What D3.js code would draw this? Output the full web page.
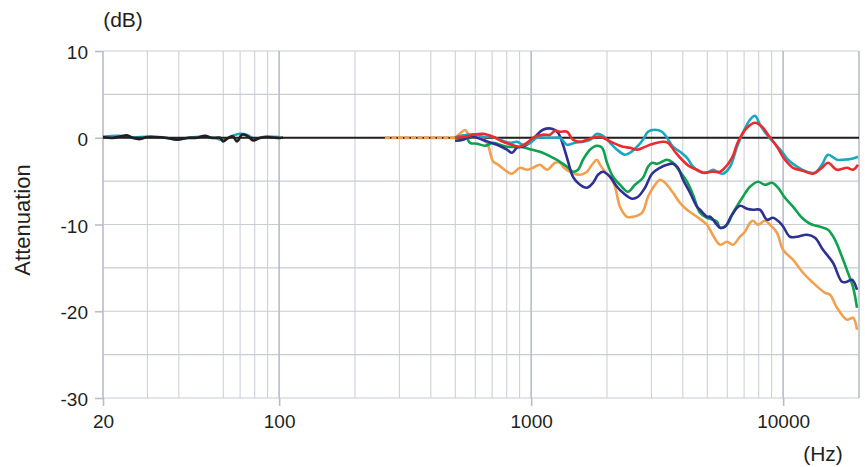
<!DOCTYPE html>
<html>
<head>
<meta charset="utf-8">
<script src="https://cdn.jsdelivr.net/npm/d3@7"></script>
<style>
	body { margin: 0; background: #fff; }
	text { font-family: "Liberation Sans", Arial, sans-serif; fill: #231f20; }
</style>
</head>
<body>
<div class="chart"></div>
<script>
var xTicks = [20, 100, 1000, 10000];
var yTicks = [10, 0, -10, -20, -30];
var gridFreqs = [30, 40, 60, 70, 80, 90, 200, 300, 400, 500, 600, 700, 800, 900,
	2000, 3000, 4000, 5000, 6000, 7000, 8000, 9000];
var gridDb = [5, -5, -15, -25];

var lowBlack = [[20,0.08],[21.9,-0.03],[23.4,0.15],[24.9,0.27],[26.3,-0.03],[28.1,-0.15],[29.9,0.08],[32.8,0.08],
	[35.9,-0.03],[39.3,-0.23],[43.1,-0.03],[47.2,0],[50.8,0.23],[54.1,-0.03],[58.3,0],[59.9,-0.42],[62.7,-0.03],
	[65.6,0.15],[68,-0.42],[71.2,0.35],[74.6,0.23],[78.8,-0.31],[84,-0.03],[89.5,0.08],[98.1,-0.03],[103.6,0.03]];
var lowCyan = [[20,0.12],[23,0.22],[26,0.05],[30,0.12],[35,0],[40,-0.18],[45,0.05],[50,0.15],[55,0],[60,-0.25],
	[65,0.2],[70,0.45],[75,0.3],[80,-0.15],[85,0.05],[90,0.15],[100,0.08]];
var orangeFlat = [[263,0],[499,0]];

var orange = [[499,0],[522,0.5],[547,0.9],[572,0.15],[627,0],[668,-0.6],[706,-2.7],[739,-3.1],[802,-3.9],[840,-4.15],
	[903,-3.46],[962,-3.69],[1017,-3.46],[1084,-3.11],[1156,-3.69],[1244,-2.88],[1302,-2.88],[1338,-3.34],[1426,-3.92],
	[1563,-4.27],[1666,-3.92],[1744,-3.11],[1825,-2.54],[1876,-3.11],[1964,-3.92],[2056,-4.5],[2152,-5.65],[2252,-7.95],
	[2401,-9.11],[2536,-9.11],[2754,-8.65],[2909,-6.8],[3045,-5.76],[3245,-4.84],[3398,-5.19],[3655,-6.34],[3896,-7.5],
	[4154,-8.3],[4551,-9.11],[4986,-10.03],[5124,-10.61],[5616,-12.33],[5987,-11.99],[6325,-12.33],[6740,-11.41],
	[7054,-10.84],[7386,-9.8],[7592,-9.57],[7946,-10.03],[8472,-9.57],[8868,-10.03],[9453,-10.95],[9986,-12.91],
	[10940,-14.06],[11990,-15.56],[13130,-16.71],[14660,-17.87],[15350,-18.1],[16360,-19.6],[17920,-20.98],
	[18930,-20.75],[19640,-22.13]];
var navy = [[499,-0.35],[537,-0.23],[572,0.15],[610,0],[668,-0.42],[732,-0.81],[802,-1.38],[840,-1.73],[879,-1.15],
	[928,-1],[990,-0.58],[1055,0.35],[1114,0.92],[1210,1.04],[1278,0.58],[1338,-0.81],[1400,-2.7],[1466,-4.5],
	[1563,-5.42],[1666,-5.76],[1760,-5.19],[1842,-4.27],[1928,-3.92],[2056,-4.5],[2191,-5.65],[2315,-6.34],[2513,-7.03],
	[2655,-6.8],[2830,-5.76],[3018,-4.15],[3245,-3.46],[3460,-3.11],[3655,-3],[3825,-3.46],[4005,-4.84],[4270,-6.34],
	[4551,-7.95],[4677,-8.3],[4986,-9.11],[5124,-9.11],[5464,-10.03],[5616,-10.37],[5879,-10.26],[6267,-8.88],
	[6740,-7.84],[7186,-8.18],[7592,-8.3],[8093,-8.3],[8628,-9.45],[9114,-9.22],[9895,-10.03],[10640,-11.41],
	[11350,-11.41],[12430,-11.18],[13380,-11.53],[14390,-12.91],[15770,-14.41],[17120,-16.6],[17920,-16.6],
	[18760,-16.37],[19640,-17.52]];
var green = [[499,0],[547,0.23],[572,-0.58],[610,-0.69],[656,-0.92],[706,-0.58],[752,-0.81],[802,-1.04],[879,-1.04],
	[945,-1.15],[1008,-1.38],[1084,-1.61],[1156,-1.96],[1221,-2.31],[1302,-2.77],[1388,-3.34],[1466,-3.92],[1535,-3.69],
	[1606,-2.54],[1712,-1.38],[1825,-0.92],[1911,-1.15],[2000,-2.88],[2113,-4.5],[2252,-5.42],[2423,-6.22],[2583,-5.42],
	[2779,-4.61],[2909,-3.34],[3018,-2.88],[3158,-3],[3306,-2.77],[3460,-2.54],[3655,-2.88],[3896,-3.92],[4154,-5.07],
	[4389,-6.57],[4677,-8.65],[4986,-9.22],[5464,-9.68],[5616,-10.37],[5987,-10.03],[6325,-8.65],[6927,-6.8],
	[7386,-5.65],[7946,-5.07],[8472,-5.42],[9032,-5.19],[9541,-5.76],[10170,-6.92],[10940,-7.95],[11880,-9.22],
	[12780,-9.91],[14000,-10.26],[15070,-10.61],[16060,-11.76],[17120,-13.72],[18080,-15.56],[18930,-17.18],
	[19640,-19.6]];
var cyan = [[499,0],[557,0.35],[610,0.35],[644,0.12],[699,0.12],[752,-0.23],[825,-0.58],[879,-0.46],[928,-0.81],
	[990,-0.58],[1055,0],[1156,0],[1244,0],[1302,0],[1388,-0.81],[1493,-0.58],[1606,-0.46],[1712,-0.23],[1825,0.46],
	[1928,0.23],[2056,-0.58],[2191,-1.38],[2357,-1.96],[2467,-1.73],[2630,-1.04],[2779,-0.23],[2909,0.69],[3101,0.92],
	[3306,0.69],[3460,0],[3655,-1.04],[3896,-1.61],[4154,-2.31],[4389,-3.34],[4677,-3.92],[4986,-4.03],[5267,-3.69],
	[5464,-3.92],[5772,-4.15],[6154,-3.34],[6560,-1.04],[6927,0.58],[7386,2.07],[7731,2.54],[8093,1.5],[8628,0.35],
	[9114,-0.46],[9895,-1.61],[10450,-2.54],[11350,-3.34],[12430,-3.92],[13380,-4.03],[14260,-3.11],[15070,-1.96],
	[16360,-2.54],[17280,-2.54],[18760,-2.42],[19820,-2.19]];
var red = [[499,0],[547,0.12],[588,0.35],[644,0.46],[706,0.12],[773,-0.46],[840,-0.81],[903,-1.04],[962,-0.58],
	[1036,0.12],[1114,0.35],[1188,0.35],[1244,0.81],[1302,0.69],[1388,0.69],[1466,-0.23],[1563,-0.46],[1666,-0.23],
	[1760,0],[1876,0.12],[2000,-0.23],[2113,-0.58],[2315,-1.04],[2467,-1.15],[2630,-1.38],[2779,-1.15],[2963,-0.81],
	[3158,-0.58],[3336,-0.46],[3492,-0.58],[3722,-1.61],[3968,-2.54],[4270,-3.34],[4551,-3.69],[4808,-4.03],
	[5220,-3.92],[5616,-3.92],[5772,-3.69],[6267,-2.31],[6620,-0.46],[7186,1.15],[7731,1.73],[8243,1.27],[8709,0.35],
	[9453,-1.04],[10170,-2.54],[10940,-3.46],[11990,-3.8],[13130,-4.15],[14260,-3.46],[15070,-2.88],[16360,-3.69],
	[17920,-3.46],[18930,-3.69],[19820,-3.11]];

function makeChart(){
	var width = 865,
			height = 467;

	var svg = d3.select(".chart").append("svg")
			.attr("width", width)
			.attr("height", height);

	var x = d3.scaleLog().domain([20, 20000]).range([103, 859]);
	var y = d3.scaleLinear().domain([-30, 10]).range([398, 51]);

	var grid = svg.append("g").attr("class", "grid");

	grid.selectAll(".vminor").data(gridFreqs).enter().append("line")
			.attr("x1", function(d){ return x(d) }).attr("x2", function(d){ return x(d) })
			.attr("y1", y(10)).attr("y2", y(-30))
			.style("stroke", "#c9ccd5").style("stroke-width", 1);

	grid.selectAll(".hminor").data(gridDb.concat(yTicks)).enter().append("line")
			.attr("x1", x(20)).attr("x2", x(20000))
			.attr("y1", function(d){ return y(d) }).attr("y2", function(d){ return y(d) })
			.style("stroke", "#c9ccd5").style("stroke-width", 1.2);

	grid.selectAll(".vmajor").data(xTicks.concat([20000])).enter().append("line")
			.attr("x1", function(d){ return x(d) }).attr("x2", function(d){ return x(d) })
			.attr("y1", y(10)).attr("y2", y(-30))
			.style("stroke", "#b9bdc8").style("stroke-width", 1.6);

	// axes: short ticks and labels only, the frame comes from the grid
	var yAxis = d3.axisLeft(y).tickValues(yTicks).tickSize(8).tickPadding(7)
			.tickFormat(function(d){ return String(d) });
	var xAxis = d3.axisBottom(x).tickValues(xTicks).tickSize(8).tickPadding(4)
			.tickFormat(function(d){ return String(d) });

	var gy = svg.append("g").attr("transform", "translate(" + x(20) + ",0)").call(yAxis);
	var gx = svg.append("g").attr("transform", "translate(0," + y(-30) + ")").call(xAxis);
	[gx, gy].forEach(function(g){
		g.select(".domain").remove();
		g.selectAll(".tick line").style("stroke", "#b9bdc8").style("stroke-width", 1.6);
		g.selectAll(".tick text").style("font-size", "19px").style("fill", "#231f20");
	});
	gy.selectAll(".tick text").attr("dy", "0.4em");
	gx.selectAll(".tick text").attr("dy", "0.95em");

	var line = d3.line()
			.x(function(d){ return x(d[0]) })
			.y(function(d){ return y(d[1]) })
			.curve(d3.curveCatmullRom.alpha(0.5));

	var plot = svg.append("g");

	plot.append("path").datum(lowCyan).attr("d", line)
			.style("fill", "none").style("stroke", "#1aa7c0").style("stroke-width", 2.5);

	plot.append("path").datum([[20, 0], [20000, 0]]).attr("d", line)
			.style("fill", "none").style("stroke", "#231f20").style("stroke-width", 2);

	plot.append("path").datum(lowBlack).attr("d", line)
			.style("fill", "none").style("stroke", "#231f20").style("stroke-width", 2.6);

	plot.append("path").datum(orangeFlat).attr("d", line)
			.style("fill", "none").style("stroke", "#f2a04e").style("stroke-width", 3)
			.style("stroke-dasharray", "5,1.5");

	var series = [
		{ data: orange, color: "#f2a04e" },
		{ data: green, color: "#0ea24e" },
		{ data: navy, color: "#2e3192" },
		{ data: cyan, color: "#19a8c1" },
		{ data: red, color: "#ec2b2e" }
	];

	plot.selectAll(".curve").data(series).enter().append("path")
			.attr("class", "curve")
			.attr("d", function(d){ return line(d.data) })
			.style("fill", "none")
			.style("stroke", function(d){ return d.color })
			.style("stroke-width", 2.6)
			.style("stroke-linejoin", "round");

	svg.append("text")
			.attr("x", 123).attr("y", 27)
			.attr("text-anchor", "middle")
			.style("font-size", "21px")
			.text("(dB)");

	svg.append("text")
			.attr("x", 823).attr("y", 461)
			.attr("text-anchor", "middle")
			.style("font-size", "21px")
			.text("(Hz)");

	svg.append("text")
			.attr("transform", "translate(30,220) rotate(-90)")
			.attr("text-anchor", "middle")
			.style("font-size", "22px")
			.text("Attenuation");
}

makeChart();
</script>
</body>
</html>
